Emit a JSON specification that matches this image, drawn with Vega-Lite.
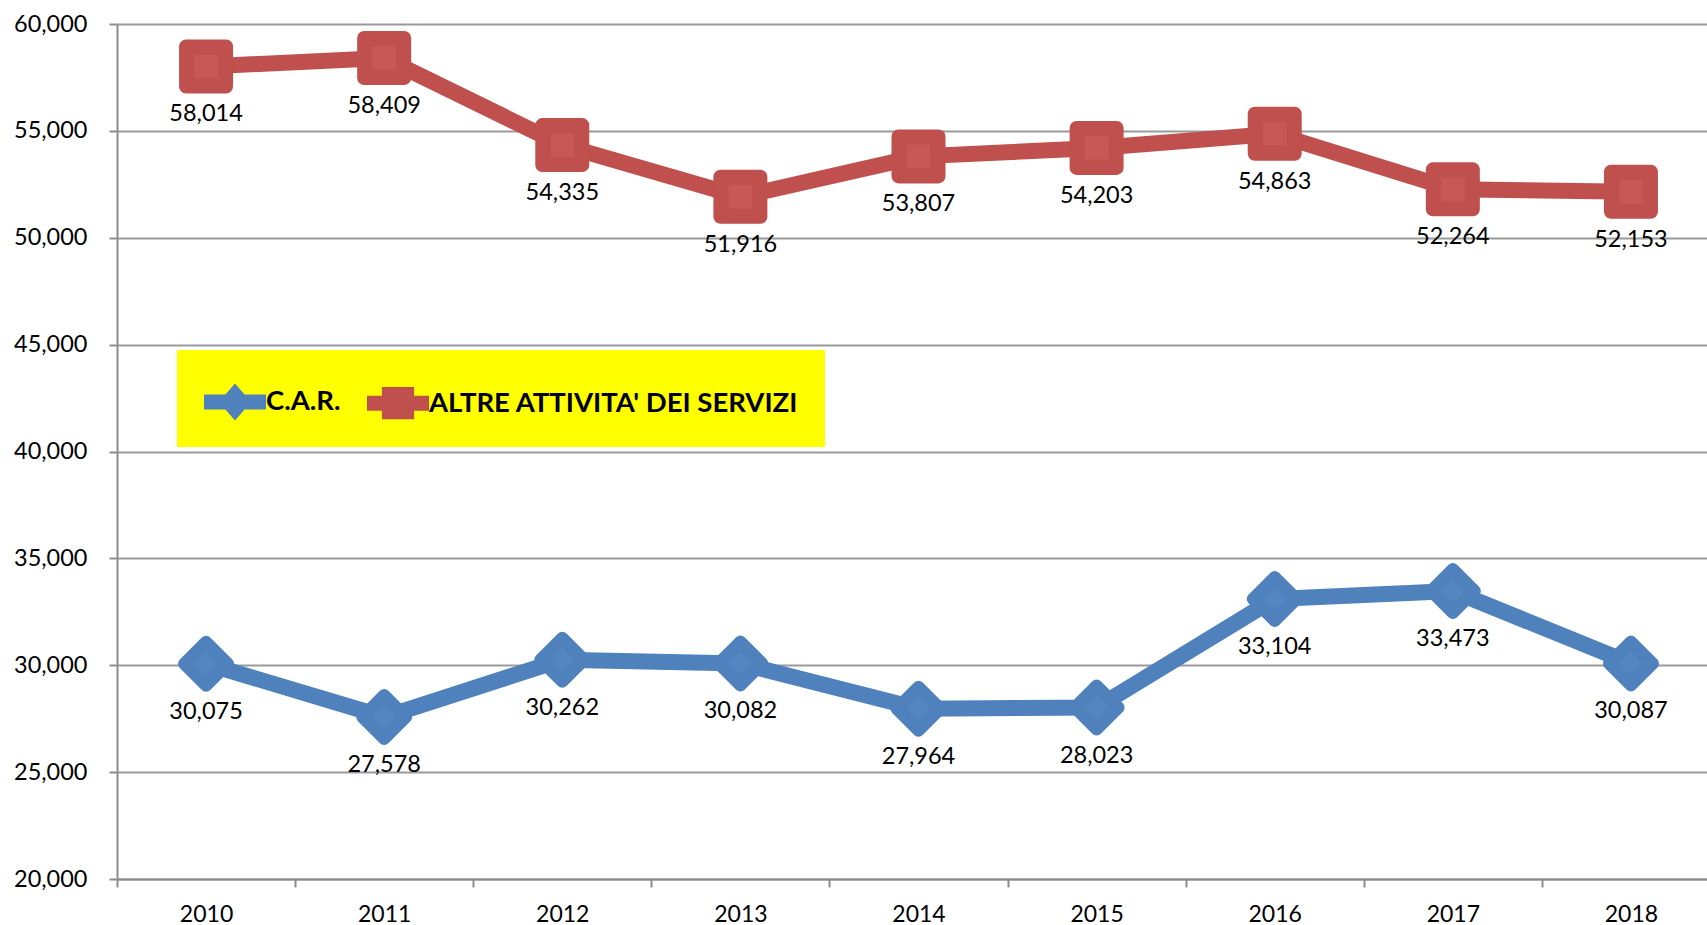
{
  "$schema": "https://vega.github.io/schema/vega-lite/v6.json",
  "autosize": "none",
  "padding": {"left": 117, "top": 24, "right": 0, "bottom": 46},
  "width": 1590,
  "height": 855,
  "background": "white",
  "config": {"view": {"stroke": null}, "font": "Lato"},
  "data": {
    "values": [
      {"year": "2010", "series": "C.A.R.", "value": 30075},
      {"year": "2011", "series": "C.A.R.", "value": 27578},
      {"year": "2012", "series": "C.A.R.", "value": 30262},
      {"year": "2013", "series": "C.A.R.", "value": 30082},
      {"year": "2014", "series": "C.A.R.", "value": 27964},
      {"year": "2015", "series": "C.A.R.", "value": 28023},
      {"year": "2016", "series": "C.A.R.", "value": 33104},
      {"year": "2017", "series": "C.A.R.", "value": 33473},
      {"year": "2018", "series": "C.A.R.", "value": 30087},
      {"year": "2010", "series": "ALTRE ATTIVITA' DEI SERVIZI", "value": 58014},
      {"year": "2011", "series": "ALTRE ATTIVITA' DEI SERVIZI", "value": 58409},
      {"year": "2012", "series": "ALTRE ATTIVITA' DEI SERVIZI", "value": 54335},
      {"year": "2013", "series": "ALTRE ATTIVITA' DEI SERVIZI", "value": 51916},
      {"year": "2014", "series": "ALTRE ATTIVITA' DEI SERVIZI", "value": 53807},
      {"year": "2015", "series": "ALTRE ATTIVITA' DEI SERVIZI", "value": 54203},
      {"year": "2016", "series": "ALTRE ATTIVITA' DEI SERVIZI", "value": 54863},
      {"year": "2017", "series": "ALTRE ATTIVITA' DEI SERVIZI", "value": 52264},
      {"year": "2018", "series": "ALTRE ATTIVITA' DEI SERVIZI", "value": 52153}
    ]
  },
  "encoding": {
    "x": {
      "field": "year", "type": "ordinal",
      "scale": {"type": "band", "range": [0, 1603], "paddingInner": 0, "paddingOuter": 0},
      "axis": {
        "title": null, "labelAngle": 0, "tickBand": "extent", "grid": false,
        "domainColor": "#8c8c8c", "domainWidth": 2, "tickColor": "#8c8c8c", "tickWidth": 2, "tickSize": 8,
        "labelFont": "Lato", "labelFontSize": 23, "labelColor": "#000000", "labelPadding": 16
      }
    },
    "y": {
      "field": "value", "type": "quantitative",
      "scale": {"domain": [20000, 60000], "nice": false, "zero": false},
      "axis": {
        "title": null, "values": [20000, 25000, 30000, 35000, 40000, 45000, 50000, 55000, 60000],
        "format": ",d", "grid": true, "gridColor": "#9a9a9a", "gridWidth": 2,
        "domainColor": "#8c8c8c", "domainWidth": 2, "tickColor": "#8c8c8c", "tickWidth": 2, "tickSize": 8,
        "labelFont": "Lato", "labelFontSize": 23.5, "labelColor": "#000000", "labelPadding": 22
      }
    }
  },
  "layer": [
    {
      "mark": {"type": "line", "strokeWidth": 16, "strokeJoin": "round"},
      "encoding": {
        "color": {
          "field": "series", "type": "nominal",
          "scale": {"domain": ["C.A.R.", "ALTRE ATTIVITA' DEI SERVIZI"], "range": ["#4F81BD", "#C0504D"]},
          "legend": {
            "title": null, "orient": "none", "direction": "horizontal", "columns": 2,
            "legendX": 60, "legendY": 326, "fillColor": "#FFFF00", "padding": 26,
            "symbolSize": 3844, "symbolOffset": 1, "labelOffset": 0, "columnPadding": 25,
            "labelFont": "Lato", "labelFontWeight": "bold", "labelFontSize": 27.5, "labelColor": "#000000", "labelLimit": 1000,
            "symbolStrokeWidth": 0,
            "encode": {
              "labels": {"update": {"dy": {"value": -5}}},
              "symbols": {
                "update": {
                  "shape": {"signal": "datum.value === 'C.A.R.' ? 'M-1,-0.415L1,-0.415L1,0.065L-1,0.065Z M0,-0.775L0.52,-0.175L0,0.425L-0.52,-0.175Z' : 'M-1,-0.415L1,-0.415L1,0.065L-1,0.065Z M-0.52,-0.695L0.52,-0.695L0.52,0.345L-0.52,0.345Z'"},
                  "fill": {"signal": "datum.value === 'C.A.R.' ? '#4F81BD' : '#C0504D'"},
                  "fillOpacity": {"value": 1},
                  "strokeWidth": {"value": 0},
                  "size": {"value": 3844}
                }
              }
            }
          }
        }
      }
    },
    {
      "transform": [{"filter": "datum.series === 'C.A.R.'"}],
      "mark": {"type": "point", "shape": "diamond", "filled": true, "size": 1936, "color": "#4F81BD", "stroke": "#4F81BD", "strokeJoin": "round", "strokeWidth": 12, "opacity": 1}
    },
    {
      "transform": [{"filter": "datum.series !== 'C.A.R.'"}],
      "mark": {"type": "point", "shape": "square", "filled": true, "size": 1600, "color": "#C0504D", "stroke": "#C0504D", "strokeJoin": "round", "strokeWidth": 14, "opacity": 1}
    },
    {
      "transform": [{"filter": "datum.series === 'C.A.R.'"}],
      "mark": {"type": "point", "shape": "diamond", "filled": true, "size": 560, "color": "#5486c2", "strokeWidth": 0, "opacity": 1}
    },
    {
      "transform": [{"filter": "datum.series !== 'C.A.R.'"}],
      "mark": {"type": "point", "shape": "square", "filled": true, "size": 560, "color": "#c75855", "strokeWidth": 0, "opacity": 1}
    },
    {
      "mark": {"type": "text", "dy": 48, "baseline": "middle", "align": "center", "font": "Lato", "fontSize": 23.5, "color": "#000000"},
      "encoding": {
        "text": {"field": "value", "type": "quantitative", "format": ",d"}
      }
    }
  ]
}
